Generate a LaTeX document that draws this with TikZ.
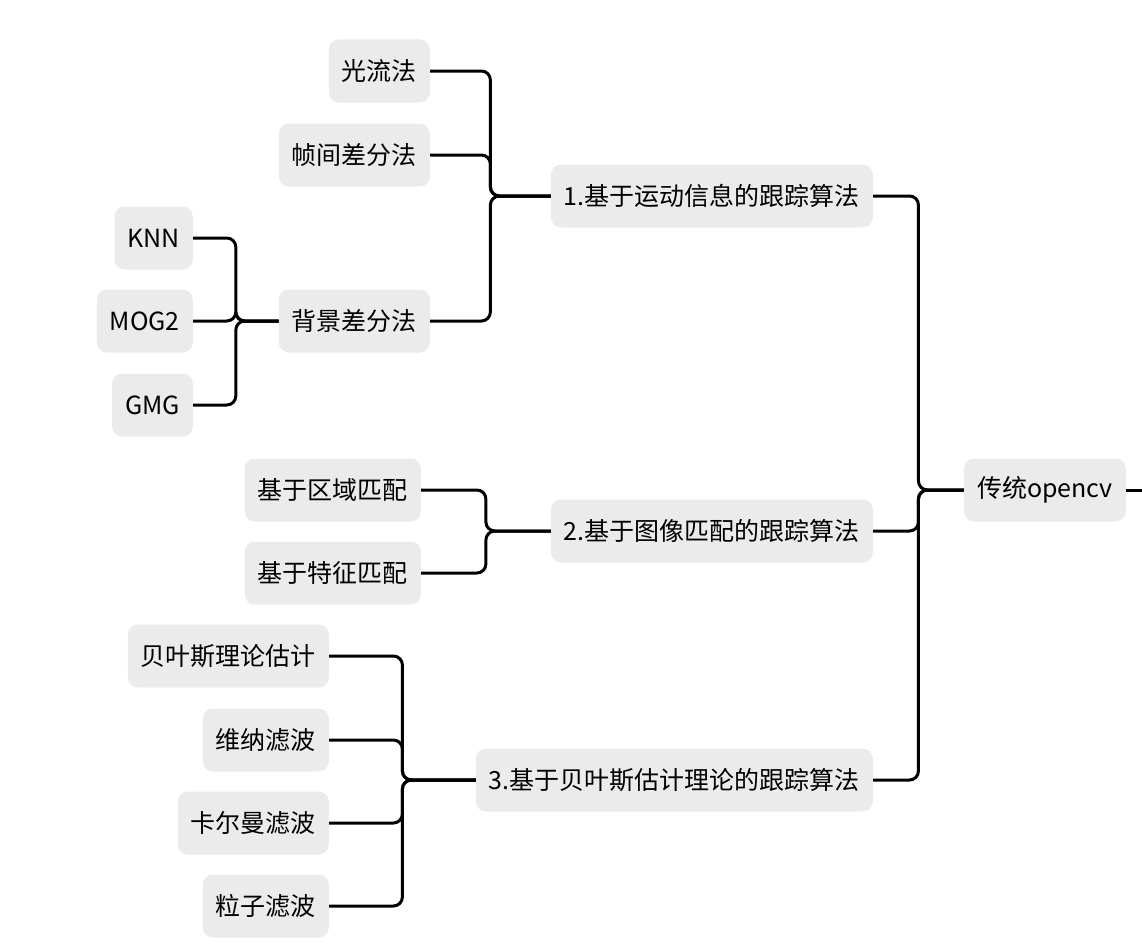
\documentclass[tikz,border=0pt]{standalone}
\usepackage{fontspec}
\setmainfont{Noto Sans CJK SC}
\usetikzlibrary{calc}
\tikzstyle{topic} = [rectangle, rounded corners=10pt,
minimum height=63pt,
inner xsep=13pt,
text centered,
fill=black!8,
font=\fontsize{25}{28}\selectfont,
anchor=east]
\tikzstyle{link} = [line width=3pt, rounded corners=9pt]

\begin{document}
\begin{tikzpicture}[x=1pt, y=-1pt]
\useasboundingbox (0,0) rectangle (1142,950);

\node (root) [topic] at (1126,490) {传统opencv};
\node (m1) [topic] at (873,196) {1.基于运动信息的跟踪算法};
\node (m2) [topic] at (873,531) {2.基于图像匹配的跟踪算法};
\node (m3) [topic] at (873,780) {3.基于贝叶斯估计理论的跟踪算法};

\node (flow) [topic] at (430,71) {光流法};
\node (frame) [topic] at (430,155) {帧间差分法};
\node (bg) [topic] at (430,321) {背景差分法};
\node (knn) [topic] at (193,238) {KNN};
\node (mog) [topic] at (193,321) {MOG2};
\node (gmg) [topic] at (193,405) {GMG};

\node (region) [topic] at (421,490) {基于区域匹配};
\node (feature) [topic] at (421,573) {基于特征匹配};

\node (bayes) [topic] at (329,656) {贝叶斯理论估计};
\node (wiener) [topic] at (329,740) {维纳滤波};
\node (kalman) [topic] at (329,823) {卡尔曼滤波};
\node (particle) [topic] at (329,906) {粒子滤波};

\coordinate (out) at (1142,490);
\draw [link] (root.east) -- (out);

\foreach \c/\p in {m1/root, m2/root, m3/root,
  flow/m1, frame/m1, bg/m1, knn/bg, mog/bg, gmg/bg,
  region/m2, feature/m2,
  bayes/m3, wiener/m3, kalman/m3, particle/m3}
  \draw [link] (\c.east) -| ($(\c.east)!0.5!(\p.west)$) |- (\p.west);

\end{tikzpicture}
\end{document}
